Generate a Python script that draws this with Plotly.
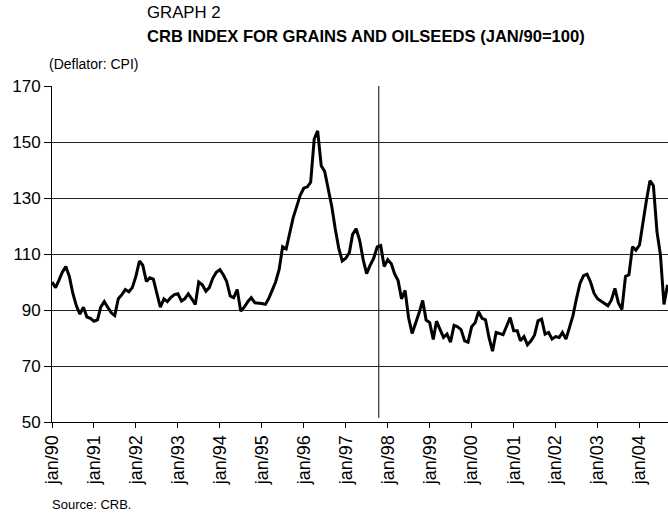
import pandas as pd
import plotly.graph_objects as go

# monthly CRB grains & oilseeds index, deflated by CPI (jan/90 = 100)
start_month = "1990-01-01"
index_values = [
    # 1990
    100, 98, 100.5, 103.5, 105.5, 102, 96, 91.5, 88.5, 91, 87.5, 87,
    # 1991
    86, 86.5, 91, 93, 91, 89, 88, 94, 95.5, 97.3, 96.5, 98,
    # 1992
    102, 107.5, 106, 100.2, 101.5, 101, 96, 91, 94, 93, 94.5, 95.5,
    # 1993
    95.8, 93.2, 94, 95.8, 94, 92, 100, 99, 96.7, 98, 101.4, 103.5,
    # 1994
    104.4, 102.5, 100.2, 95, 94.4, 97.3, 89.6, 91, 93, 94.4, 92.6, 92.5,
    # 1995
    92.3, 92, 94, 97, 100, 104.5, 112.6, 111.8, 118, 123, 127, 131,
    # 1996
    133.5, 134, 135.6, 151, 154, 141.5, 139.5, 133, 127, 119, 112, 107.5,
    # 1997
    108.5, 110.5, 117, 119, 115, 108, 103, 106, 108.5, 112.5, 113, 105.5,
    # 1998
    108, 106.5, 103, 100.5, 94, 97, 87.3, 81.6, 85, 89, 93.4, 86.4,
    # 1999
    85.5, 79.5, 86, 83, 80.2, 81.4, 78.5, 84.5, 84, 83, 79, 78.5,
    # 2000
    84, 85.5, 89.4, 87, 86.5, 80, 75.3, 82, 81.5, 81.2, 84.3, 87.3,
    # 2001
    82.6, 82.6, 79, 80.5, 77.6, 79, 81, 86.1, 86.7, 81.4, 82, 79.6,
    # 2002
    80.5, 80.2, 82, 79.6, 83.7, 88, 94, 99.5, 102.3, 102.8, 100, 96,
    # 2003
    94, 93.2, 92.6, 91.5, 93.5, 97.7, 92.6, 90.2, 102, 102.6, 112.6, 111.4,
    # 2004
    113.2, 122, 129.1, 136.2, 134.4, 118, 109.7, 92, 99,
]
tick_labels = ["jan/90", "jan/91", "jan/92", "jan/93", "jan/94", "jan/95", "jan/96",
               "jan/97", "jan/98", "jan/99", "jan/00", "jan/01", "jan/02", "jan/03",
               "jan/04"]
marker_date = "1997-10-15"

months = pd.date_range(start_month, periods=len(index_values), freq="MS")
tick_dates = pd.date_range(start_month, periods=len(tick_labels), freq="YS")

FONT = "Liberation Sans, Arial, sans-serif"

fig = go.Figure()

fig.add_trace(
    go.Scatter(
        x=months,
        y=index_values,
        mode="lines",
        line=dict(color="black", width=3),
        showlegend=False,
    )
)

# vertical marker line (does not quite reach the x axis)
fig.add_shape(
    type="line",
    xref="x",
    yref="y",
    x0=marker_date,
    x1=marker_date,
    y0=51.5,
    y1=170,
    line=dict(color="black", width=1),
)

fig.update_xaxes(
    range=["1990-01-01", "2004-09-05"],
    tickmode="array",
    tickvals=tick_dates,
    ticktext=tick_labels,
    tickangle=-90,
    ticks="outside",
    ticklen=5,
    tickcolor="black",
    showline=True,
    linecolor="black",
    linewidth=1,
    showgrid=False,
    zeroline=False,
    automargin=False,
    tickfont=dict(family=FONT, size=18, color="black"),
)

fig.update_yaxes(
    range=[50, 170],
    tick0=50,
    dtick=20,
    ticks="outside",
    ticklen=7,
    tickcolor="black",
    showline=True,
    linecolor="black",
    linewidth=1,
    showgrid=True,
    gridcolor="#222222",
    gridwidth=1,
    zeroline=False,
    automargin=False,
    tickfont=dict(family=FONT, size=17, color="black"),
)

texts = [
    ("GRAPH 2", 0.151, 1.220, 16.8),
    ("<b>CRB INDEX FOR GRAINS AND OILSEEDS (JAN/90=100)</b>", 0.151, 1.146, 16.6),
    ("(Deflator: CPI)", -0.008, 1.065, 14),
    ("Source: CRB.", -0.003, -0.247, 13),
]
for text, x, y, size in texts:
    fig.add_annotation(
        text=text,
        xref="paper",
        yref="paper",
        x=x,
        y=y,
        xanchor="left",
        yanchor="middle",
        showarrow=False,
        font=dict(family=FONT, size=size, color="black"),
    )

fig.update_layout(
    width=668,
    height=515,
    margin=dict(l=52, r=0, t=86, b=93),
    paper_bgcolor="white",
    plot_bgcolor="white",
    font=dict(family=FONT, color="black"),
)

fig.write_html(
    "out.html",
    config={"displayModeBar": False},
    post_script="document.body.style.margin='0';document.body.style.overflow='hidden';",
)
